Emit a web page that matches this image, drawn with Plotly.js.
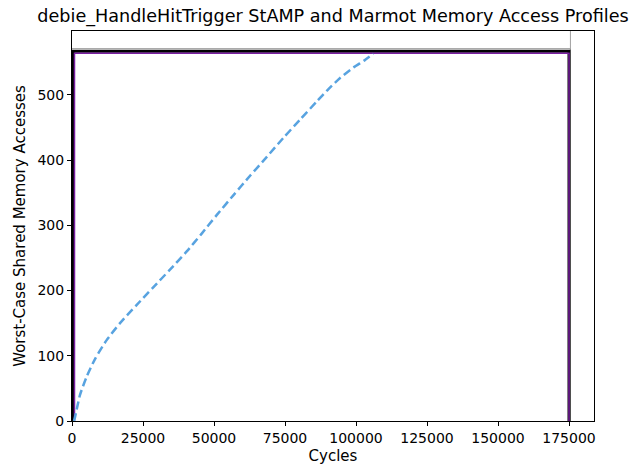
<!DOCTYPE html>
<html>
<head>
<meta charset="utf-8">
<script src="https://cdn.plot.ly/plotly-3.0.1.min.js"></script>
<style>html,body{margin:0;padding:0;background:#fff;}#chart{width:639px;height:469px;}</style>
</head>
<body>
<div id="chart"></div>
<script>
// Marmot measured profile (dashed blue)
const marmotX = [700, 1060, 2820, 5170, 8100, 12200, 16900, 22800, 28600, 34500, 40400, 45600, 51000, 56800, 62700, 68600, 74400, 80300, 86200, 90300, 94400, 99100, 103000, 106100];
const marmotY = [0, 6, 40, 68, 95, 124, 150, 178, 205, 232, 260, 287, 316, 346, 376, 405, 434, 462, 490, 509, 526, 542, 553, 563];

// StAMP bound (black step)
const stampX = [460, 460, 175000, 175000];
const stampY = [0, 567, 567, 0];

// second bound (purple)
const purpleX = [880, 880, 175000, 175000];
const purpleY = [0, 564, 564, 0];

// gray reference bound
const grayX = [0, 175500, 175500];
const grayY = [571, 571, 0];
const grayVX = [175500, 175500];
const grayVY = [0, 700];

const xTicks = [0, 25000, 50000, 75000, 100000, 125000, 150000, 175000];
const yTicks = [0, 100, 200, 300, 400, 500];

const traces = [
  {x: grayX, y: grayY, mode: 'lines', line: {color: '#a0a0a0', width: 1}, showlegend: false, hoverinfo: 'skip'},
  {x: grayVX, y: grayVY, mode: 'lines', line: {color: '#a0a0a0', width: 1}, showlegend: false, hoverinfo: 'skip'},
  {x: stampX, y: stampY, mode: 'lines', line: {color: '#000000', width: 3}, showlegend: false},
  {x: purpleX, y: purpleY, mode: 'lines', line: {color: '#7a1fa2', width: 1.5}, showlegend: false},
  {x: marmotX, y: marmotY, mode: 'lines', line: {color: '#58a3e0', width: 2.5, dash: '8px,4px', shape: 'spline', smoothing: 0.6}, showlegend: false}
];

const font = {family: 'DejaVu Sans, sans-serif', color: '#000', size: 14};
const titleFont = {family: 'DejaVu Sans, sans-serif', color: '#000', size: 15};

const layout = {
  width: 639, height: 469,
  margin: {l: 72, r: 45, t: 31, b: 48, pad: 0},
  paper_bgcolor: '#fff', plot_bgcolor: '#fff',
  font: font,
  title: {text: 'debie_HandleHitTrigger StAMP and Marmot Memory Access Profiles', font: {family: 'DejaVu Sans, sans-serif', size: 17.6, color: '#000'}, x: 0.5, xref: 'paper', xanchor: 'center', y: 0.967, yanchor: 'middle'},
  xaxis: {
    range: [0, 183800], tickvals: xTicks, ticktext: xTicks.map(String),
    showgrid: false, zeroline: false, showline: true, linecolor: '#000', linewidth: 1, mirror: true,
    ticks: 'outside', ticklen: 4, tickcolor: '#000', tickwidth: 1,
    title: {text: 'Cycles', font: titleFont, standoff: 5}, tickfont: font
  },
  yaxis: {
    range: [0, 598], tickvals: yTicks, ticktext: yTicks.map(String),
    showgrid: false, zeroline: false, showline: true, linecolor: '#000', linewidth: 1, mirror: true,
    ticks: 'outside', ticklen: 4, tickcolor: '#000', tickwidth: 1,
    title: {text: 'Worst-Case Shared Memory Accesses', font: titleFont, standoff: 8}, tickfont: font
  }
};

Plotly.newPlot('chart', traces, layout, {displayModeBar: false, staticPlot: true});
</script>
</body>
</html>
